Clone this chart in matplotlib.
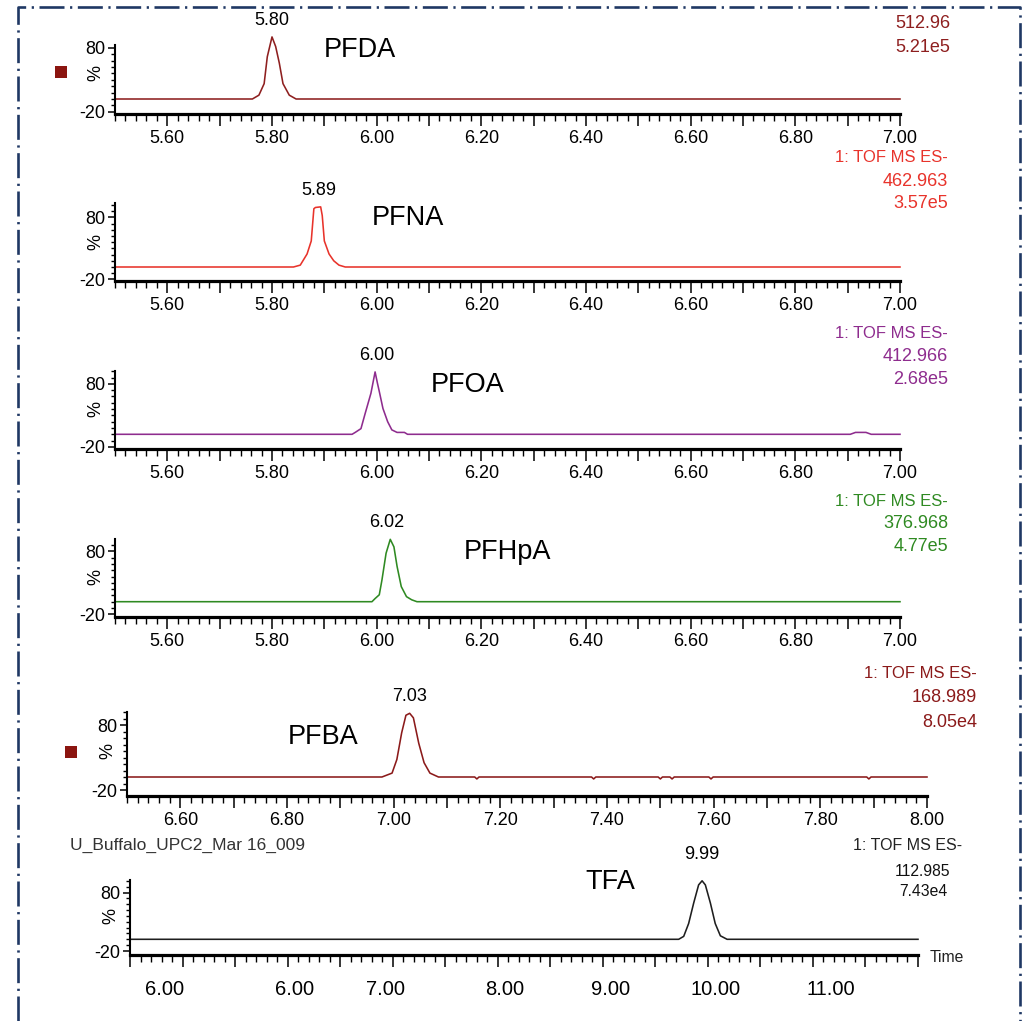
import matplotlib
matplotlib.use("Agg")
import matplotlib.pyplot as plt
from matplotlib.lines import Line2D
from matplotlib.ticker import MultipleLocator
import numpy as np

plt.rcParams['font.family'] = ['Liberation Sans', 'DejaVu Sans']
plt.rcParams['lines.scale_dashes'] = False

# ---------------- data ----------------
pfda_t = [5.50, 5.7625, 5.775, 5.785, 5.791, 5.800, 5.807, 5.814, 5.821, 5.833, 5.846, 7.00]
pfda_y = [0, 0, 6, 24, 66, 97, 82, 56, 24, 6, 0, 0]

pfna_t = [5.50, 5.841, 5.854, 5.867, 5.875, 5.880, 5.883, 5.893, 5.896, 5.900, 5.909, 5.918, 5.928, 5.940, 7.00]
pfna_y = [0, 0, 3, 21, 42, 94, 96, 97, 83, 42, 21, 10, 3, 0, 0]

pfoa_t = [5.50, 5.953, 5.959, 5.970, 5.978, 5.989, 5.997, 6.0015, 6.005, 6.012, 6.021, 6.029,
          6.039, 6.053, 6.059, 6.905, 6.915, 6.935, 6.945, 7.00]
pfoa_y = [0, 0, 3, 9, 33, 65, 99, 81, 68, 41, 20, 7, 3, 3, 0, 0, 3, 3, 0, 0]

pfhpa_t = [5.50, 5.991, 5.997, 6.005, 6.010, 6.018, 6.026, 6.033, 6.039, 6.047, 6.057, 6.067, 6.077, 7.00]
pfhpa_y = [0, 0, 5, 11, 34, 77, 99, 87, 56, 24, 8, 3, 0, 0]

pfba_t = [6.50, 6.978, 6.997, 7.006, 7.015, 7.023, 7.030, 7.037, 7.047, 7.057, 7.068, 7.084,
          7.152, 7.156, 7.160, 7.371, 7.375, 7.379, 7.496, 7.500, 7.504, 7.518, 7.522, 7.526,
          7.591, 7.595, 7.599, 7.887, 7.891, 7.895, 8.00]
pfba_y = [0, 0, 6, 27, 68, 95, 98, 91, 52, 22, 6, 0,
          0, -3, 0, 0, -3, 0, 0, -3, 0, 0, -3, 0,
          0, -3, 0, 0, -3, 0, 0]

tfa_t = [4.55, 9.772, 9.820, 9.867, 9.915, 9.962, 9.995, 10.026, 10.074, 10.120, 10.169, 10.233, 12.05]
tfa_y = [0, 0, 5, 27, 62, 93, 100, 93, 62, 27, 6, 0, 0]

compounds = ['PFDA', 'PFNA', 'PFOA', 'PFHpA', 'PFBA', 'TFA']
peak_labels = ['5.80', '5.89', '6.00', '6.02', '7.03', '9.99']
masses = ['512.96', '462.963', '412.966', '376.968', '168.989', '112.985']
intensities = ['5.21e5', '3.57e5', '2.68e5', '4.77e5', '8.05e4', '7.43e4']
scan_label = '1: TOF MS ES-'
sample_name = 'U_Buffalo_UPC2_Mar 16_009'

xt_labels_a = ['5.60', '5.80', '6.00', '6.20', '6.40', '6.60', '6.80', '7.00']
xt_labels_b = ['6.60', '6.80', '7.00', '7.20', '7.40', '7.60', '7.80', '8.00']
tfa_tick_labels = ['6.00', '6.00', '7.00', '8.00', '9.00', '10.00', '11.00']
tfa_tick_pos = [4.88, 6.12, 6.98, 8.12, 9.12, 10.12, 11.22]
yt_labels = ['-20', '80']

# ---------------- layout ----------------
W, H = 1035, 1021
fig = plt.figure(figsize=(W / 100, H / 100), dpi=100)


def ftext(px, py, s, **kw):
    return fig.text(px / W, 1 - py / H, s, **kw)


c_pfda = '#8E1F1F'
c_pfna = '#E8332B'
c_pfoa = '#8E2C8E'
c_pfhpa = '#2F8A22'
c_pfba = '#8B1A1A'
c_tfa = '#1E1E1E'

# x0, x1, ytop, ybot, ybase, px-per-unit
panels = [
    dict(t=pfda_t, y=pfda_y, c=c_pfda, box=(115, 900, 45, 114, 99, 0.64), xl=(5.50, 7.00), labs=xt_labels_a),
    dict(t=pfna_t, y=pfna_y, c=c_pfna, box=(115, 900, 203, 281, 267, 0.62), xl=(5.50, 7.00), labs=xt_labels_a),
    dict(t=pfoa_t, y=pfoa_y, c=c_pfoa, box=(115, 900, 371, 449, 434.3, 0.63), xl=(5.50, 7.00), labs=xt_labels_a),
    dict(t=pfhpa_t, y=pfhpa_y, c=c_pfhpa, box=(115, 900, 539, 617, 601.7, 0.63), xl=(5.50, 7.00), labs=xt_labels_a),
    dict(t=pfba_t, y=pfba_y, c=c_pfba, box=(127, 927, 712, 796, 777, 0.65), xl=(6.50, 8.00), labs=xt_labels_b),
    dict(t=tfa_t, y=tfa_y, c=c_tfa, box=(130, 918, 880, 955, 939.3, 0.585), xl=(4.55, 12.05), labs=None),
]

axes = []
for i, p in enumerate(panels):
    x0, x1, yt, yb, ybase, s = p['box']
    ax = fig.add_axes([x0 / W, 1 - yb / H, (x1 - x0) / W, (yb - yt) / H])
    ax.patch.set_alpha(0)
    ax.set_xlim(*p['xl'])
    ax.set_ylim(-(yb - ybase) / s, (ybase - yt) / s)
    ax.plot(p['t'], p['y'], color=p['c'], lw=1.15, clip_on=False)
    for sp in ('top', 'right'):
        ax.spines[sp].set_visible(False)
    ax.spines['bottom'].set_linewidth(2.3)
    ax.spines['left'].set_linewidth(1.5)

    ax.set_yticks([-20, 80], labels=yt_labels)
    ax.yaxis.set_minor_locator(MultipleLocator(10))
    ax.tick_params(axis='y', which='major', length=5, width=1.1, pad=2, labelsize=13)
    ax.tick_params(axis='y', which='minor', length=3, width=1.0)
    ax.annotate('%', xy=(0, 40), xycoords=ax.get_yaxis_transform(), xytext=(-13.5, 0),
                textcoords='offset points', rotation=90, ha='center', va='center', fontsize=13)

    if p['labs'] is not None:
        lo = float(p['labs'][0])
        majors = np.round(np.arange(lo, float(p['labs'][-1]) + 0.001, 0.1), 2)
        lbls = [f"{m:.2f}" if f"{m:.2f}" in p['labs'] else '' for m in majors]
        ax.set_xticks(majors, labels=lbls)
        ax.xaxis.set_minor_locator(MultipleLocator(0.02))
        ax.tick_params(axis='x', which='major', length=8.5, width=1.1, pad=3, labelsize=13)
        ax.tick_params(axis='x', which='minor', length=5, width=1.0)
    else:
        ax.xaxis.set_major_locator(MultipleLocator(0.5, offset=0.05))
        ax.xaxis.set_minor_locator(MultipleLocator(0.1, offset=0.05))
        ax.tick_params(axis='x', which='major', length=8.5, width=1.1, labelbottom=False)
        ax.tick_params(axis='x', which='minor', length=5, width=1.0)
        for pos, lab in zip(tfa_tick_pos, tfa_tick_labels):
            ax.annotate(lab, xy=(pos, 0), xycoords=ax.get_xaxis_transform(), xytext=(0, -25),
                        textcoords='offset points', ha='center', va='center', fontsize=14.5)

    # peak label
    pk = float(peak_labels[i])
    off = 13 if i == 5 else 6
    ax.annotate(peak_labels[i], xy=(pk, max(p['y'])), xytext=(0, off), textcoords='offset points',
                ha='center', va='bottom', fontsize=13, annotation_clip=False)
    axes.append(ax)

# compound names
name_pos = [(360, 50), (408, 218), (468, 385), (508, 552), (323, 737), (610, 882)]
for (px, py), nm in zip(name_pos, compounds):
    ftext(px, py, nm, fontsize=19.5, ha='center', va='center')

# right-side annotation blocks
ftext(950, 24, masses[0], color=c_pfda, fontsize=13, ha='right', va='center')
ftext(950, 47, intensities[0], color=c_pfda, fontsize=13, ha='right', va='center')

blocks = [(1, c_pfna, 948, (158, 181, 203)),
          (2, c_pfoa, 948, (333, 356, 379)),
          (3, c_pfhpa, 948, (501, 523, 546)),
          (4, c_pfba, 977, (673, 698, 722))]
for idx, col, xr, ys in blocks:
    ftext(xr, ys[0], scan_label, color=col, fontsize=12, ha='right', va='center')
    ftext(xr, ys[1], masses[idx], color=col, fontsize=13, ha='right', va='center')
    ftext(xr, ys[2], intensities[idx], color=col, fontsize=13, ha='right', va='center')

# TFA block
ftext(70, 845, sample_name, color='#333333', fontsize=12.5, ha='left', va='center')
ftext(962, 845, scan_label, color='#222222', fontsize=11.5, ha='right', va='center')
ftext(923, 872, masses[5], color='#111111', fontsize=11.3, ha='center', va='center')
ftext(923, 891, intensities[5], color='#111111', fontsize=11.3, ha='center', va='center')
ftext(930, 957, 'Time', color='#222222', fontsize=11.3, ha='left', va='center')

# legend-like squares
for (px, py) in [(61, 72), (71, 752)]:
    fig.patches.append(plt.Rectangle(((px - 6) / W, 1 - (py + 6) / H), 12 / W, 12 / H,
                                     transform=fig.transFigure, facecolor='#8B1510',
                                     edgecolor='none'))

# dash-dot frame
frame = Line2D([18 / W, 18 / W, 1020 / W, 1020 / W], [0, 1 - 7 / H, 1 - 7 / H, 0],
               transform=fig.transFigure, color='#1F3864', lw=1.9)
frame.set_dashes([18, 4, 1.6, 4])
fig.lines.append(frame)

fig.savefig('out.png', dpi=100)
